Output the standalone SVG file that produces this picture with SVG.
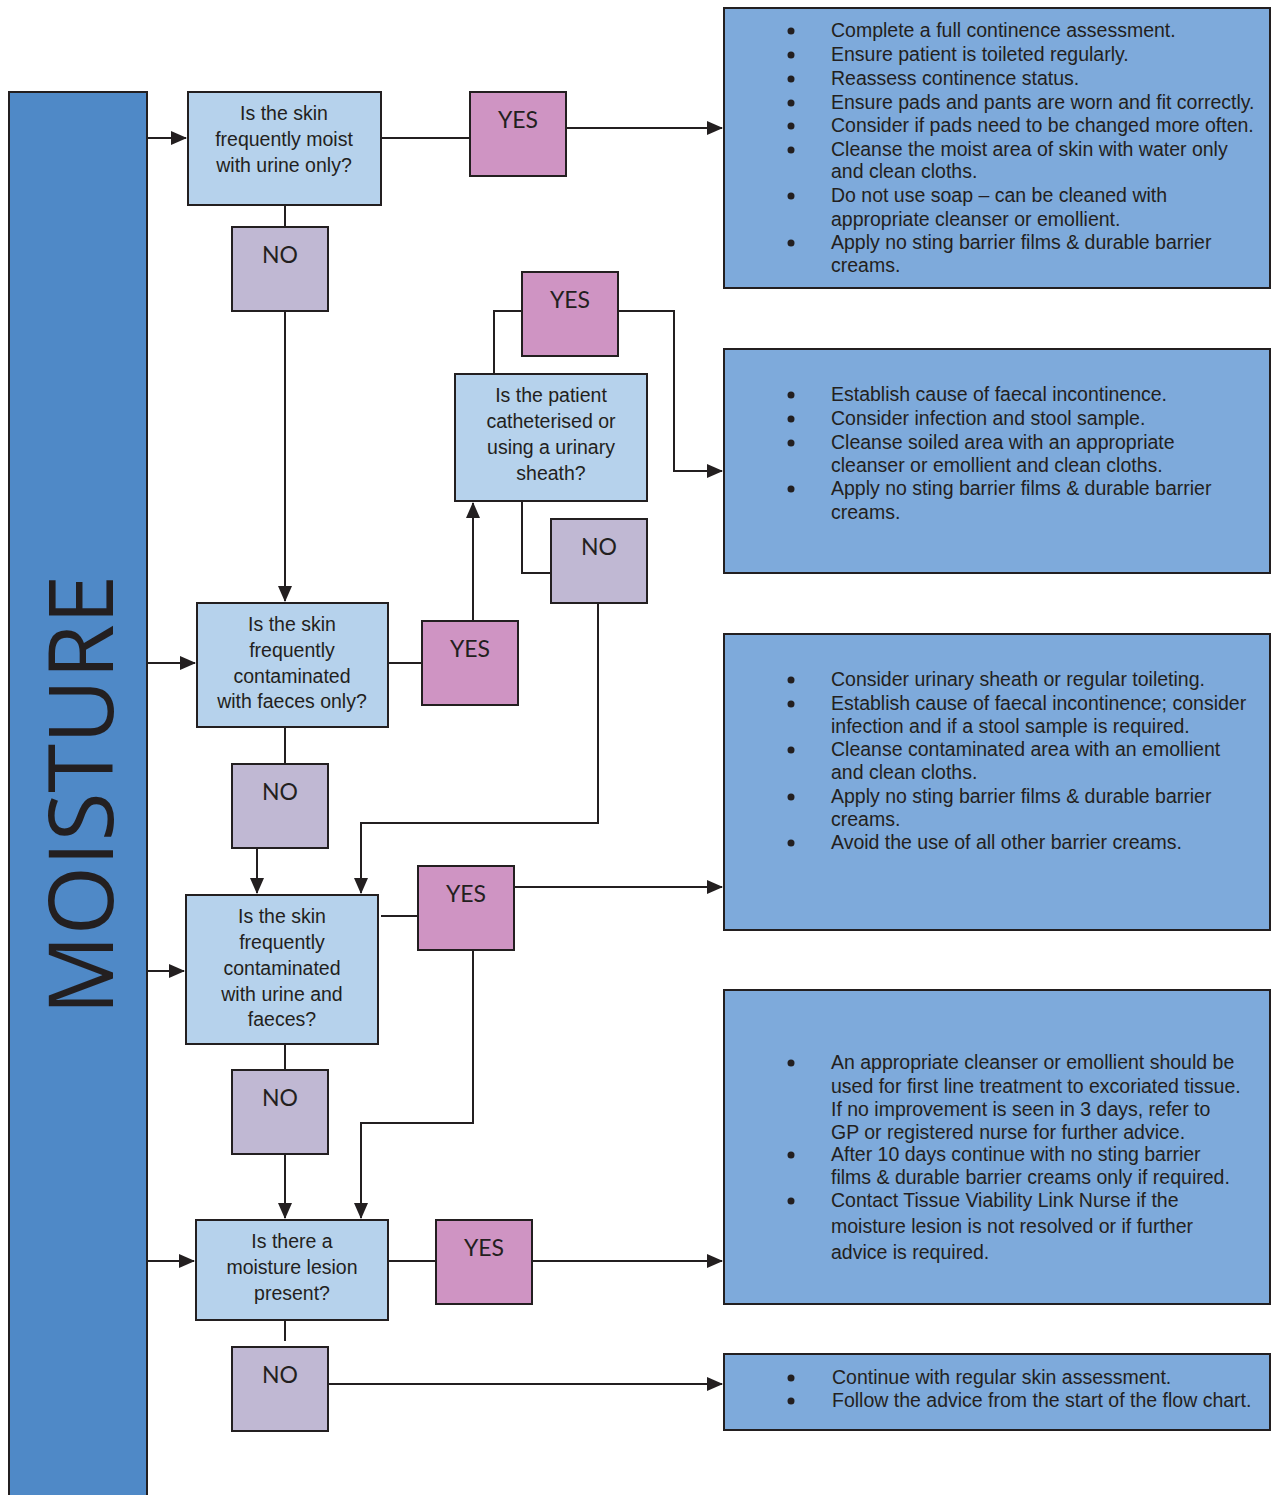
<svg xmlns="http://www.w3.org/2000/svg" width="1271" height="1495" viewBox="0 0 1271 1495">
<style>
.q{fill:#b6d2ec;stroke:#231f20;stroke-width:2}
.y{fill:#cf94c3;stroke:#231f20;stroke-width:2}
.n{fill:#c0b8d3;stroke:#231f20;stroke-width:2}
.b{fill:#7eaadb;stroke:#231f20;stroke-width:2}
.qt{font-family:"Liberation Sans",Arial,sans-serif;font-size:19.5px;fill:#231f20;text-anchor:middle}
.lt{font-family:Lato,"Open Sans",sans-serif;font-size:23px;fill:#231f20;text-anchor:middle}
.bt{font-family:"Liberation Sans",Arial,sans-serif;font-size:19.5px;fill:#231f20}
.c{fill:none;stroke:#231f20;stroke-width:2}
.d{fill:#231f20}
</style>
<defs>
<marker id="ar" markerUnits="userSpaceOnUse" markerWidth="16" markerHeight="14" viewBox="0 0 16 14" refX="15" refY="7" orient="auto">
<path d="M0,0 L16,7 L0,14 Z" fill="#231f20"/>
</marker>
</defs>
<rect width="1271" height="1495" fill="#ffffff"/>

<g id="moisture">
<rect x="9" y="92" width="138" height="1410" fill="#4f89c7" stroke="#231f20" stroke-width="2"/>
<text transform="translate(113,795) rotate(-90)" font-family="'Open Sans',Lato,sans-serif" font-size="90" fill="#231f20" text-anchor="middle" textLength="440" lengthAdjust="spacingAndGlyphs">MOISTURE</text>
</g>

<g id="connectors">
<path class="c" d="M147,138 H186" marker-end="url(#ar)"/>
<path class="c" d="M147,663 H195" marker-end="url(#ar)"/>
<path class="c" d="M147,971 H184" marker-end="url(#ar)"/>
<path class="c" d="M147,1261 H194" marker-end="url(#ar)"/>
<path class="c" d="M381,138 H470"/>
<path class="c" d="M566,128 H722" marker-end="url(#ar)"/>
<path class="c" d="M285,205 V227"/>
<path class="c" d="M285,311 V601" marker-end="url(#ar)"/>
<path class="c" d="M388,663 H422"/>
<path class="c" d="M473,621 V503" marker-end="url(#ar)"/>
<path class="c" d="M494,374 V311 H522"/>
<path class="c" d="M618,311 H674 V471 H722" marker-end="url(#ar)"/>
<path class="c" d="M522,501 V573 H551"/>
<path class="c" d="M598,603 V823 H361 V893" marker-end="url(#ar)"/>
<path class="c" d="M285,727 V764"/>
<path class="c" d="M257,848 V893" marker-end="url(#ar)"/>
<path class="c" d="M381,916 H418"/>
<path class="c" d="M514,887 H722" marker-end="url(#ar)"/>
<path class="c" d="M473,950 V1123 H361 V1218" marker-end="url(#ar)"/>
<path class="c" d="M285,1044 V1070"/>
<path class="c" d="M285,1154 V1218" marker-end="url(#ar)"/>
<path class="c" d="M388,1261 H436"/>
<path class="c" d="M532,1261 H722" marker-end="url(#ar)"/>
<path class="c" d="M285,1320 V1341"/>
<path class="c" d="M328,1384 H722" marker-end="url(#ar)"/>
</g>

<g id="q1">
<rect class="q" x="188" y="92" width="193" height="113"/>
<text class="qt" x="284" y="120">Is the skin</text>
<text class="qt" x="284" y="146">frequently moist</text>
<text class="qt" x="284" y="172">with urine only?</text>
</g>
<g id="yes1"><rect class="y" x="470" y="92" width="96" height="84"/><text class="lt" x="518" y="128">YES</text></g>
<g id="no1"><rect class="n" x="232" y="227" width="96" height="84"/><text class="lt" x="280" y="263">NO</text></g>

<g id="box1">
<rect class="b" x="724" y="8" width="546" height="280"/>
<circle class="d" cx="791" cy="31" r="3.5"/><circle class="d" cx="791" cy="55" r="3.5"/><circle class="d" cx="791" cy="79" r="3.5"/><circle class="d" cx="791" cy="103" r="3.5"/><circle class="d" cx="791" cy="126" r="3.5"/><circle class="d" cx="791" cy="150" r="3.5"/><circle class="d" cx="791" cy="196" r="3.5"/><circle class="d" cx="791" cy="243" r="3.5"/>
<g class="bt">
<text x="831" y="37">Complete a full continence assessment.</text>
<text x="831" y="61">Ensure patient is toileted regularly.</text>
<text x="831" y="85">Reassess continence status.</text>
<text x="831" y="109">Ensure pads and pants are worn and fit correctly.</text>
<text x="831" y="132">Consider if pads need to be changed more often.</text>
<text x="831" y="156">Cleanse the moist area of skin with water only</text>
<text x="831" y="178">and clean cloths.</text>
<text x="831" y="202">Do not use soap – can be cleaned with</text>
<text x="831" y="226">appropriate cleanser or emollient.</text>
<text x="831" y="249">Apply no sting barrier films &amp; durable barrier</text>
<text x="831" y="272">creams.</text>
</g>
</g>

<g id="yes3"><rect class="y" x="522" y="272" width="96" height="84"/><text class="lt" x="570" y="308">YES</text></g>
<g id="qcath">
<rect class="q" x="455" y="374" width="192" height="127"/>
<text class="qt" x="551" y="402">Is the patient</text>
<text class="qt" x="551" y="428">catheterised or</text>
<text class="qt" x="551" y="454">using a urinary</text>
<text class="qt" x="551" y="480">sheath?</text>
</g>
<g id="no2"><rect class="n" x="551" y="519" width="96" height="84"/><text class="lt" x="599" y="555">NO</text></g>

<g id="box2">
<rect class="b" x="724" y="349" width="546" height="224"/>
<circle class="d" cx="791" cy="395" r="3.5"/><circle class="d" cx="791" cy="419" r="3.5"/><circle class="d" cx="791" cy="443" r="3.5"/><circle class="d" cx="791" cy="489" r="3.5"/>
<g class="bt">
<text x="831" y="401">Establish cause of faecal incontinence.</text>
<text x="831" y="425">Consider infection and stool sample.</text>
<text x="831" y="449">Cleanse soiled area with an appropriate</text>
<text x="831" y="472">cleanser or emollient and clean cloths.</text>
<text x="831" y="495">Apply no sting barrier films &amp; durable barrier</text>
<text x="831" y="519">creams.</text>
</g>
</g>

<g id="q2">
<rect class="q" x="197" y="603" width="191" height="124"/>
<text class="qt" x="292" y="631">Is the skin</text>
<text class="qt" x="292" y="657">frequently</text>
<text class="qt" x="292" y="683">contaminated</text>
<text class="qt" x="292" y="708">with faeces only?</text>
</g>
<g id="yes2"><rect class="y" x="422" y="621" width="96" height="84"/><text class="lt" x="470" y="657">YES</text></g>
<g id="no3"><rect class="n" x="232" y="764" width="96" height="84"/><text class="lt" x="280" y="800">NO</text></g>

<g id="box3">
<rect class="b" x="724" y="634" width="546" height="296"/>
<circle class="d" cx="791" cy="680" r="3.5"/><circle class="d" cx="791" cy="704" r="3.5"/><circle class="d" cx="791" cy="750" r="3.5"/><circle class="d" cx="791" cy="797" r="3.5"/><circle class="d" cx="791" cy="843" r="3.5"/>
<g class="bt">
<text x="831" y="686">Consider urinary sheath or regular toileting.</text>
<text x="831" y="710">Establish cause of faecal incontinence; consider</text>
<text x="831" y="733">infection and if a stool sample is required.</text>
<text x="831" y="756">Cleanse contaminated area with an emollient</text>
<text x="831" y="779">and clean cloths.</text>
<text x="831" y="803">Apply no sting barrier films &amp; durable barrier</text>
<text x="831" y="826">creams.</text>
<text x="831" y="849">Avoid the use of all other barrier creams.</text>
</g>
</g>

<g id="q3">
<rect class="q" x="186" y="895" width="192" height="149"/>
<text class="qt" x="282" y="923">Is the skin</text>
<text class="qt" x="282" y="949">frequently</text>
<text class="qt" x="282" y="975">contaminated</text>
<text class="qt" x="282" y="1001">with urine and</text>
<text class="qt" x="282" y="1026">faeces?</text>
</g>
<g id="yes4"><rect class="y" x="418" y="866" width="96" height="84"/><text class="lt" x="466" y="902">YES</text></g>
<g id="no4"><rect class="n" x="232" y="1070" width="96" height="84"/><text class="lt" x="280" y="1106">NO</text></g>

<g id="box4">
<rect class="b" x="724" y="990" width="546" height="314"/>
<circle class="d" cx="791" cy="1063" r="3.5"/><circle class="d" cx="791" cy="1155" r="3.5"/><circle class="d" cx="791" cy="1201" r="3.5"/>
<g class="bt">
<text x="831" y="1069">An appropriate cleanser or emollient should be</text>
<text x="831" y="1093">used for first line treatment to excoriated tissue.</text>
<text x="831" y="1116">If no improvement is seen in 3 days, refer to</text>
<text x="831" y="1139">GP or registered nurse for further advice.</text>
<text x="831" y="1161">After 10 days continue with no sting barrier</text>
<text x="831" y="1184">films &amp; durable barrier creams only if required.</text>
<text x="831" y="1207">Contact Tissue Viability Link Nurse if the</text>
<text x="831" y="1233">moisture lesion is not resolved or if further</text>
<text x="831" y="1259">advice is required.</text>
</g>
</g>

<g id="q4">
<rect class="q" x="196" y="1220" width="192" height="100"/>
<text class="qt" x="292" y="1248">Is there a</text>
<text class="qt" x="292" y="1274">moisture lesion</text>
<text class="qt" x="292" y="1300">present?</text>
</g>
<g id="yes5"><rect class="y" x="436" y="1220" width="96" height="84"/><text class="lt" x="484" y="1256">YES</text></g>
<g id="no5"><rect class="n" x="232" y="1347" width="96" height="84"/><text class="lt" x="280" y="1383">NO</text></g>

<g id="box5">
<rect class="b" x="724" y="1354" width="546" height="76"/>
<circle class="d" cx="791" cy="1378" r="3.5"/><circle class="d" cx="791" cy="1401" r="3.5"/>
<g class="bt">
<text x="832" y="1384">Continue with regular skin assessment.</text>
<text x="832" y="1407">Follow the advice from the start of the flow chart.</text>
</g>
</g>
</svg>
